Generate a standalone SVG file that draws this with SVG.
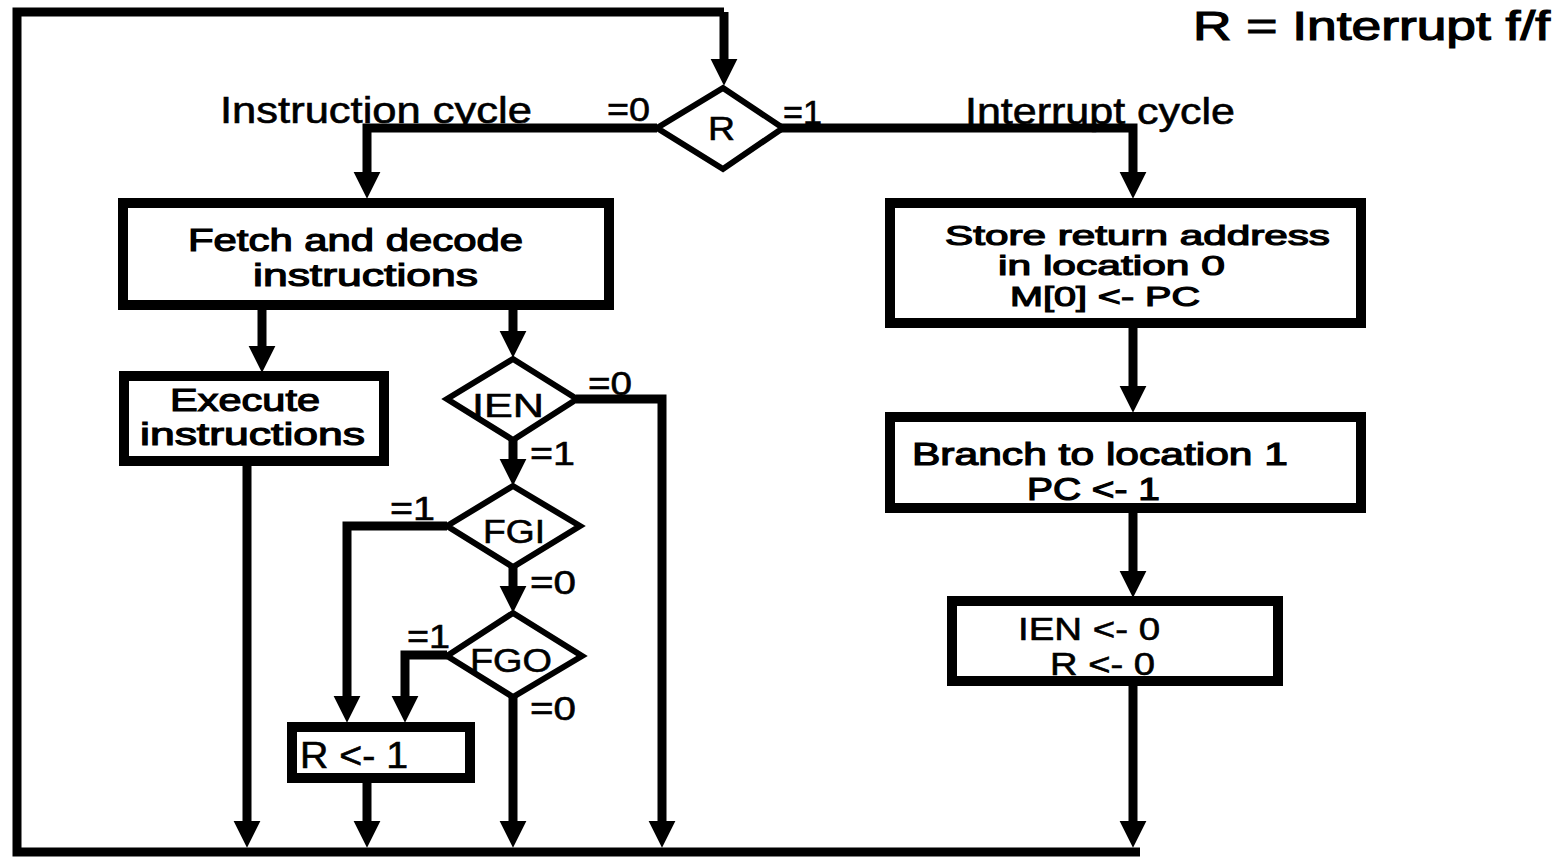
<svg xmlns="http://www.w3.org/2000/svg" width="1567" height="857" viewBox="0 0 1567 857">
<style>
.t{font-family:"Liberation Sans",Arial,sans-serif;fill:#000;stroke:#000;stroke-width:0.6}
.b{stroke-width:1.2}
.box{fill:#fff;stroke:#000;stroke-width:10}
.dia{fill:#fff;stroke:#000;stroke-width:6}
.ln{fill:none;stroke:#000;stroke-width:9}
</style>
<defs>
<marker id="ah" viewBox="0 0 10 10" refX="6" refY="5" markerWidth="27" markerHeight="28" markerUnits="userSpaceOnUse" orient="auto">
<path d="M0,0 L10,5 L0,10 z" fill="#000"/>
</marker>
</defs>
<rect width="1567" height="857" fill="#fff"/>
<g id="connectors">
<polyline class="ln" points="724,12 17,12 17,852 1140,852"/>
<polyline class="ln" points="724,12 724,75" marker-end="url(#ah)"/>
<polyline class="ln" points="657,128 367,128 367,188" marker-end="url(#ah)"/>
<polyline class="ln" points="781,128 1133,128 1133,188" marker-end="url(#ah)"/>
<polyline class="ln" points="262,310 262,362" marker-end="url(#ah)"/>
<polyline class="ln" points="513,310 513,347" marker-end="url(#ah)"/>
<polyline class="ln" points="247,465 247,837" marker-end="url(#ah)"/>
<polyline class="ln" points="576,399 662,399 662,837" marker-end="url(#ah)"/>
<polyline class="ln" points="513,440 513,475" marker-end="url(#ah)"/>
<polyline class="ln" points="447,526 347,526 347,712" marker-end="url(#ah)"/>
<polyline class="ln" points="513,567 513,602" marker-end="url(#ah)"/>
<polyline class="ln" points="447,655 405,655 405,712" marker-end="url(#ah)"/>
<polyline class="ln" points="513,697 513,837" marker-end="url(#ah)"/>
<polyline class="ln" points="367,782 367,837" marker-end="url(#ah)"/>
<polyline class="ln" points="1133,327 1133,402" marker-end="url(#ah)"/>
<polyline class="ln" points="1133,512 1133,587" marker-end="url(#ah)"/>
<polyline class="ln" points="1133,685 1133,837" marker-end="url(#ah)"/>
</g>
<g id="legend"><text class="t b" x="1193" y="40" font-size="40" textLength="357" lengthAdjust="spacingAndGlyphs">R = Interrupt f/f</text></g>
<g id="labels">
<text class="t" x="220" y="123" font-size="36" textLength="312" lengthAdjust="spacingAndGlyphs">Instruction cycle</text>
<text class="t" x="965" y="124" font-size="36" textLength="270" lengthAdjust="spacingAndGlyphs">Interrupt cycle</text>
<text class="t" x="607" y="121" font-size="34" textLength="43" lengthAdjust="spacingAndGlyphs">=0</text>
<text class="t" x="783" y="124" font-size="34" textLength="39" lengthAdjust="spacingAndGlyphs">=1</text>
<text class="t" x="588" y="395" font-size="34" textLength="44" lengthAdjust="spacingAndGlyphs">=0</text>
<text class="t" x="530" y="465" font-size="34" textLength="45" lengthAdjust="spacingAndGlyphs">=1</text>
<text class="t" x="390" y="520" font-size="34" textLength="45" lengthAdjust="spacingAndGlyphs">=1</text>
<text class="t" x="530" y="594" font-size="34" textLength="46" lengthAdjust="spacingAndGlyphs">=0</text>
<text class="t" x="407" y="648" font-size="34" textLength="43" lengthAdjust="spacingAndGlyphs">=1</text>
<text class="t" x="530" y="720" font-size="34" textLength="46" lengthAdjust="spacingAndGlyphs">=0</text>
</g>
<g id="node-R">
<polygon class="dia" points="723,88 783,128 723,169 657,128"/>
<text class="t" x="708" y="140" font-size="34" textLength="27" lengthAdjust="spacingAndGlyphs">R</text>
</g>
<g id="node-fetch">
<rect class="box" x="123" y="203" width="486" height="102"/>
<text class="t b" x="188" y="251" font-size="32" textLength="335" lengthAdjust="spacingAndGlyphs">Fetch and decode</text>
<text class="t b" x="253" y="286" font-size="32" textLength="225" lengthAdjust="spacingAndGlyphs">instructions</text>
</g>
<g id="node-execute">
<rect class="box" x="124" y="376" width="260" height="85"/>
<text class="t b" x="170" y="411" font-size="32" textLength="150" lengthAdjust="spacingAndGlyphs">Execute</text>
<text class="t b" x="140" y="445" font-size="32" textLength="225" lengthAdjust="spacingAndGlyphs">instructions</text>
</g>
<g id="node-IEN">
<polygon class="dia" points="513,359 577,399 513,440 447,399"/>
<text class="t" x="472" y="417" font-size="34" textLength="72" lengthAdjust="spacingAndGlyphs">IEN</text>
</g>
<g id="node-FGI">
<polygon class="dia" points="513,486 580,526 513,567 447,526"/>
<text class="t" x="483" y="543" font-size="34" textLength="62" lengthAdjust="spacingAndGlyphs">FGI</text>
</g>
<g id="node-FGO">
<polygon class="dia" points="513,613 582,656 513,697 447,656"/>
<text class="t" x="470" y="672" font-size="34" textLength="82" lengthAdjust="spacingAndGlyphs">FGO</text>
</g>
<g id="node-R1">
<rect class="box" x="292" y="727" width="178" height="51"/>
<text class="t" x="300" y="768" font-size="36" textLength="108" lengthAdjust="spacingAndGlyphs">R &lt;- 1</text>
</g>
<g id="node-store">
<rect class="box" x="890" y="203" width="471" height="120"/>
<text class="t b" x="945" y="245" font-size="28" textLength="385" lengthAdjust="spacingAndGlyphs">Store return address</text>
<text class="t b" x="998" y="275" font-size="28" textLength="227" lengthAdjust="spacingAndGlyphs">in location 0</text>
<text class="t b" x="1010" y="306" font-size="28" textLength="190" lengthAdjust="spacingAndGlyphs">M[0] &lt;- PC</text>
</g>
<g id="node-branch">
<rect class="box" x="890" y="417" width="471" height="91"/>
<text class="t b" x="912" y="465" font-size="32" textLength="376" lengthAdjust="spacingAndGlyphs">Branch to location 1</text>
<text class="t b" x="1027" y="500" font-size="32" textLength="133" lengthAdjust="spacingAndGlyphs">PC &lt;- 1</text>
</g>
<g id="node-clear">
<rect class="box" x="952" y="601" width="326" height="80"/>
<text class="t" x="1018" y="640" font-size="32" textLength="142" lengthAdjust="spacingAndGlyphs">IEN &lt;- 0</text>
<text class="t" x="1050" y="675" font-size="32" textLength="105" lengthAdjust="spacingAndGlyphs">R &lt;- 0</text>
</g>
</svg>
